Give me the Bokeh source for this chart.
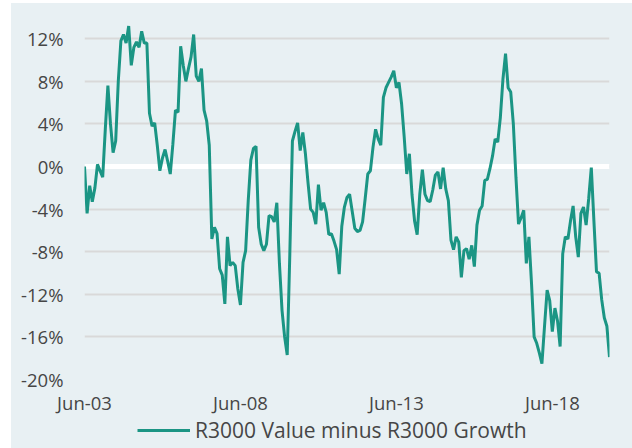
from bokeh.plotting import figure
from bokeh.models import Range1d, FixedTicker, Span, Legend, LegendItem, ColumnDataSource, Spacer
from bokeh.layouts import row, column
from bokeh.embed import file_html
from bokeh.resources import INLINE

# Monthly spread (%), Jun-2003 onwards
spread = [
    0.0, -4.4, -1.8, -3.3, -2.0, 0.2, -0.4, -1.0, 3.5, 7.6,
    4.0, 1.3, 2.4, 8.0, 11.8, 12.4, 11.6, 13.2, 9.5, 11.2,
    11.7, 11.2, 12.7, 11.6, 11.6, 5.0, 3.8, 4.1, 2.0, -0.4,
    0.8, 1.6, 0.5, -0.7, 2.1, 5.3, 5.1, 11.3, 9.5, 8.0,
    9.2, 10.3, 12.4, 8.5, 8.0, 9.2, 5.3, 4.3, 2.0, -6.8,
    -5.7, -6.3, -9.6, -10.2, -12.9, -6.6, -9.3, -9.0, -9.3, -11.5,
    -13.0, -9.0, -7.9, -3.2, 0.6, 1.7, 1.9, -5.7, -7.3, -7.9,
    -7.3, -4.6, -4.7, -5.2, -3.4, -9.1, -13.5, -16.0, -17.7, -8.2,
    2.4, 3.3, 4.1, 1.5, 3.2, 1.2, -1.5, -4.0, -4.3, -5.4,
    -1.7, -4.1, -3.4, -4.3, -6.4, -6.3, -7.0, -7.8, -10.1, -5.6,
    -3.8, -2.9, -2.6, -4.2, -5.8, -6.1, -6.0, -5.2, -3.0, -0.7,
    -0.4, 1.8, 3.5, 2.6, 2.0, 6.5, 7.4, 7.9, 8.4, 9.0,
    7.4, 7.9, 5.9, 2.8, -0.7, 1.2, -2.6, -5.1, -6.4, -2.6,
    -0.3, -2.6, -3.2, -3.3, -2.2, -0.8, -0.5, -2.1, -0.1, -2.1,
    -3.2, -6.9, -7.8, -6.6, -7.1, -10.4, -7.9, -7.7, -8.7, -7.4,
    -9.4, -5.5, -4.1, -3.7, -1.3, -1.2, -0.2, 1.0, 2.6, 2.3,
    4.6, 8.2, 10.6, 7.4, 7.0, 4.0, -1.0, -5.4, -4.8, -4.1,
    -9.1, -6.6, -11.0, -16.0, -16.6, -17.5, -18.5, -15.0, -11.6, -12.6,
    -15.5, -13.3, -14.5, -16.9, -8.2, -6.6, -6.8, -5.1, -3.7, -6.6,
    -8.5, -4.4, -3.8, -5.5, -3.0, -0.1, -5.1, -9.9, -10.0, -12.5,
    -14.2, -15.0, -17.9,
]
x_tick_pos = [0, 60, 120, 180]
x_tick_labels = ["Jun-03", "Jun-08", "Jun-13", "Jun-18"]
y_ticks = [-20, -16, -12, -8, -4, 0, 4, 8, 12]
series_name = "R3000 Value minus R3000 Growth"

BG = "#e8f0f3"
TEAL = "#1b9584"
TXT = "#464646"
FONT = "Open Sans"

src = ColumnDataSource(data=dict(x=list(range(len(spread))), y=spread))

p = figure(frame_width=525, frame_height=362, output_backend="svg", toolbar_location=None,
           x_range=Range1d(0, len(spread) - 1), y_range=Range1d(-20, 14),
           min_border_left=73, min_border_right=23, min_border_top=14,
           min_border_bottom=37)
p.background_fill_color = BG
p.border_fill_color = BG
p.outline_line_color = None

p.xgrid.grid_line_color = None
p.ygrid.grid_line_color = "#d9d9d9"
p.ygrid.grid_line_width = 2
p.ygrid.ticker = FixedTicker(ticks=y_ticks)

zero = Span(location=0, dimension="width", line_color="white", line_width=5, level="underlay")
p.add_layout(zero)

r = p.line("x", "y", source=src, line_color=TEAL, line_width=3)

p.yaxis.ticker = FixedTicker(ticks=y_ticks)
p.yaxis.major_label_overrides = {t: f"{t}%" for t in y_ticks}
p.xaxis.ticker = FixedTicker(ticks=x_tick_pos)
p.xaxis.major_label_overrides = dict(zip(x_tick_pos, x_tick_labels))

for ax in (p.xaxis[0], p.yaxis[0]):
    ax.axis_line_color = None
    ax.major_tick_line_color = None
    ax.minor_tick_line_color = None
    ax.major_tick_out = 0
    ax.major_tick_in = 0
    ax.major_label_text_font = FONT
    ax.major_label_text_font_size = "18.5px"
    ax.major_label_text_color = TXT
p.yaxis.major_label_standoff = 21
p.xaxis.major_label_standoff = 10

# legend strip below the chart (its renderer is hidden; only the legend entry shows)
leg = figure(width=621, height=32, output_backend="svg", toolbar_location=None,
             x_axis_type=None, y_axis_type=None, min_border=0)
leg.background_fill_color = BG
leg.border_fill_color = BG
leg.outline_line_color = None
leg.grid.grid_line_color = None
lr = leg.line("x", "y", source=src, line_color=TEAL, line_width=3, visible=False)

legend = Legend(items=[LegendItem(label=series_name, renderers=[lr])],
                location=(53, 5), orientation="horizontal",
                background_fill_alpha=0, border_line_alpha=0,
                inactive_fill_alpha=0,
                padding=0, margin=0, spacing=0,
                glyph_width=53, glyph_height=20, label_height=20, label_standoff=5,
                label_text_font=FONT, label_text_font_size="21px",
                label_text_color=TXT)
leg.add_layout(legend, "center")

panel = column(p, leg, styles={"background-color": BG})
layout = row(Spacer(width=11), column(Spacer(height=3), panel))

open("out.html", "w").write(file_html(layout, INLINE))
